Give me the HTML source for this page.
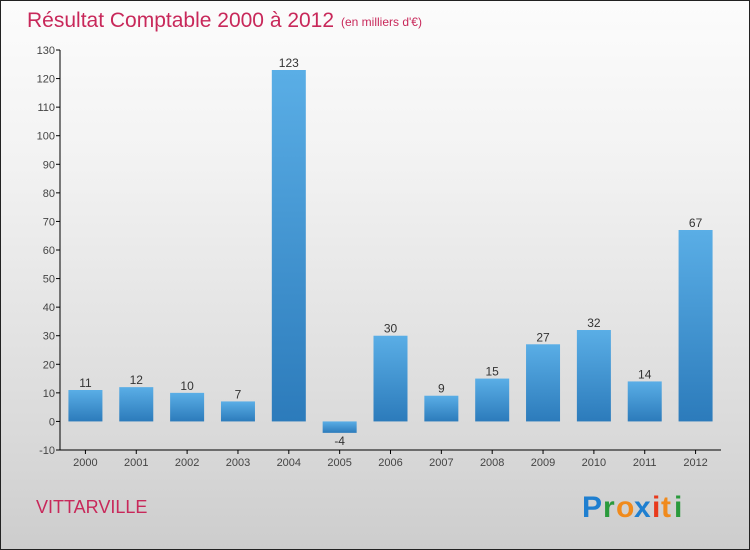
<!DOCTYPE html>
<html><head><meta charset="utf-8">
<style>
html,body{margin:0;padding:0}
body{width:750px;height:550px;overflow:hidden;font-family:"Liberation Sans",sans-serif}
#wrap{position:absolute;left:0;top:0;width:748px;height:548px;border:1px solid #222;background:linear-gradient(#fcfcfc,#f2f2f2 30%,#d9d9d9 80%,#cdcdcd)}
</style></head>
<body>
<div id="wrap">
<svg id="chart" width="750" height="550" style="position:absolute;left:-1px;top:-1px">
<defs>
<linearGradient id="bg" x1="0" y1="0" x2="0" y2="1"><stop offset="0" stop-color="#5aaee6"/><stop offset="1" stop-color="#2c7bbb"/></linearGradient>
</defs>
<text x="27" y="27" font-size="21" fill="#c8285a">Résultat Comptable 2000 à 2012</text>
<text x="341" y="26" font-size="12" fill="#c8285a">(en milliers d'€)</text>
<text x="36" y="513" font-size="18" fill="#c8285a">VITTARVILLE</text>
<g font-size="30" font-weight="bold" font-family="Liberation Sans, sans-serif">
<text x="582" y="517" fill="#1f7fd0">P</text><text x="603" y="517" fill="#2a9a3c">r</text><text x="616" y="517" fill="#f08a1c">o</text><text x="634" y="517" fill="#1f7fd0">x</text><text x="652" y="517" fill="#e83a1c">i</text><text x="661" y="517" fill="#f08a1c">t</text><text x="674" y="517" fill="#2a9a3c">i</text>
</g>
<g id="axes"></g>
<g id="bars"></g>
</svg>
</div>
<script>
const years=["2000","2001","2002","2003","2004","2005","2006","2007","2008","2009","2010","2011","2012"];
const values=[11,12,10,7,123,-4,30,9,15,27,32,14,67];
const yTicks=[-10,0,10,20,30,40,50,60,70,80,90,100,110,120,130];
const NS="http://www.w3.org/2000/svg";
const x0=60,x1=721,yMin=-10,yMax=130,pTop=50,pBot=450;
const y=v=>pBot-(v-yMin)/(yMax-yMin)*(pBot-pTop);
const step=(x1-x0)/years.length;
const xc=i=>x0+step*(i+0.5);
function mk(t,a,p){const e=document.createElementNS(NS,t);for(const k in a)e.setAttribute(k,a[k]);p.appendChild(e);return e;}
const ax=document.getElementById('axes'),bg=document.getElementById('bars');
yTicks.forEach(v=>{
  mk('line',{x1:x0-4,y1:y(v),x2:x0,y2:y(v),stroke:'#000'},ax);
  const t=mk('text',{x:x0-5,y:y(v)+4,'font-size':11,fill:'#444','text-anchor':'end'},ax);
  t.textContent=v;
  
  
});
const yl=mk('line',{x1:x0,y1:pTop,x2:x0,y2:pBot,stroke:'#000'},ax);


const xl=mk('line',{x1:x0,y1:pBot,x2:x1,y2:pBot,stroke:'#000'},ax);


years.forEach((yr,i)=>{
  mk('line',{x1:xc(i),y1:pBot,x2:xc(i),y2:pBot+4,stroke:'#000'},ax);
  const t=mk('text',{x:xc(i),y:pBot+16,'font-size':11,fill:'#444','text-anchor':'middle'},ax);
  t.textContent=yr;
  
  
  const v=values[i],w=34;
  const r=mk('rect',{x:xc(i)-w/2,y:Math.min(y(v),y(0)),width:w,height:Math.abs(y(v)-y(0)),fill:'url(#bg)'},bg);
  
  
  const l=mk('text',{x:xc(i),y:v>=0?y(v)-3:y(v)+12,'font-size':12,fill:'#333','text-anchor':'middle'},bg);
  l.textContent=v;
  
  
});
</script>
</body></html>
